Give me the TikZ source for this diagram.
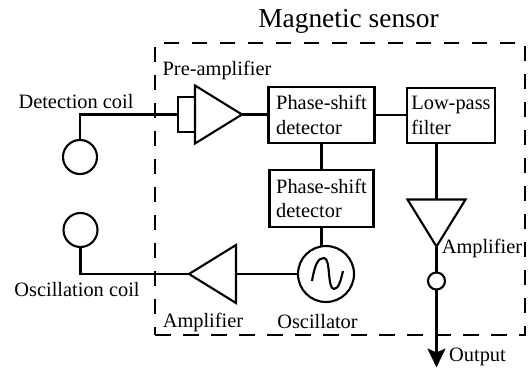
\documentclass[tikz,border=0pt]{standalone}
\usepackage{fontspec}
\setmainfont{Liberation Serif}
\usetikzlibrary{shapes.geometric,arrows.meta}

\begin{document}
\begin{tikzpicture}
	[   cnode/.style={draw=black,fill=white,circle,inner sep=0pt,outer sep=0pt,line width=1.2pt,minimum size=#1},
		block/.style={draw=black,line width=1.4pt,align=left,inner sep=0pt,outer sep=0pt,minimum width=#1},
		amp/.style={draw=black,fill=white,isosceles triangle,isosceles triangle stretches,line width=1.2pt,inner sep=0pt,outer sep=0pt,minimum width=1.16cm,minimum height=.94cm,shape border rotate=#1},
		tag/.style={inner sep=0pt},
		font=\fontsize{11.6}{14}\selectfont,
	]
	\tikzset{normal line/.style={draw,line width=1.2pt},normal arrow/.style={draw,line width=1.2pt,-{Stealth[length=.38cm,width=.36cm,inset=.08cm]}}}
	\useasboundingbox (0,0) rectangle (10.56,-7.36);
	
	\node[draw=black,line width=1.3pt,dash pattern=on .31cm off .25cm,minimum width=7.4cm,minimum height=5.84cm,inner sep=0pt,outer sep=0pt] (sensor) at (6.8,-3.78) {};
	
	% coils
	\node[cnode=.68cm] (coil-1) at (1.6,-3.14) {};
	\node[cnode=.68cm] (coil-2) at (1.61,-4.6) {};
	
	% upper row
	\node[amp=0,anchor=lower side] (amp-1) at (3.9,-2.29) {};
	\node[draw=black,line width=1.3pt,minimum width=.34cm,minimum height=.7cm,inner sep=0pt,outer sep=0pt] (stub) at (3.73,-2.29) {};
	\node[block=2.12cm,minimum height=1.12cm] (det-1) at (6.43,-2.3) {Phase-shift\\detector};
	\node[block=1.76cm,minimum height=1.1cm] (filter) at (9.02,-2.31) {Low-pass\\filter};
	
	% lower row
	\node[block=2.08cm,minimum height=1.14cm] (det-2) at (6.43,-3.97) {Phase-shift\\detector};
	\node[cnode=1.12cm] (osc) at (6.52,-5.48) {};
	\node[amp=180,anchor=lower side] (amp-2) at (4.72,-5.48) {};
	
	% right column
	\node[amp=-90,anchor=lower side] (amp-3) at (8.73,-3.99) {};
	\node[cnode=.34cm] (tap) at (8.73,-5.62) {};
	\coordinate (output) at (8.73,-7.35);
	
	\draw[line width=1.2pt,line join=round,shift={(osc)}] (-.28,-.14) .. controls (-.22,.2) and (-.16,.32) .. (-.04,.32) .. controls (.1,.32) and (.02,-.3) .. (.16,-.3) .. controls (.26,-.3) and (.3,-.1) .. (.34,.06);
	
	\path[normal line,line width=1.5pt] (coil-1.north) |- (stub.west);
	\path[normal line] (amp-1.apex) -- (amp-1.apex -| det-1.west);
	\path[normal line] (det-1.east) -- (det-1.east -| filter.west);
	\path[normal line] (det-1.south) -- (det-2.north);
	\path[normal line] (det-2.south) -- (det-2.south |- osc.98);
	\path[normal line,line width=1.4pt] (osc.west) -- (amp-2.lower side);
	\path[normal line] (amp-2.apex) -| (coil-2.south);
	\path[normal line] (amp-3.lower side |- filter.south) -- (amp-3.lower side);
	\path[normal line] (amp-3.apex) -- (tap.north);
	\path[normal arrow] (tap.south) -- (output);
	
	% labels
	\node[tag,font=\fontsize{15.6}{18}\selectfont] (title) at (6.97,-.42) {Magnetic sensor};
	\node[tag] (pre) at (4.34,-1.4) {Pre-amplifier};
	\node[tag] (det-coil) at (1.52,-2.04) {Detection coil};
	\node[tag] (osc-coil) at (1.54,-5.8) {Oscillation coil};
	\node[tag] (amp-2-label) at (4.06,-6.44) {Amplifier};
	\node[tag] (osc-label) at (6.35,-6.44) {Oscillator};
	\node[tag] (amp-3-label) at (9.64,-4.96) {Amplifier};
	\node[tag] (out-label) at (9.55,-7.14) {Output};
\end{tikzpicture}
\end{document}
